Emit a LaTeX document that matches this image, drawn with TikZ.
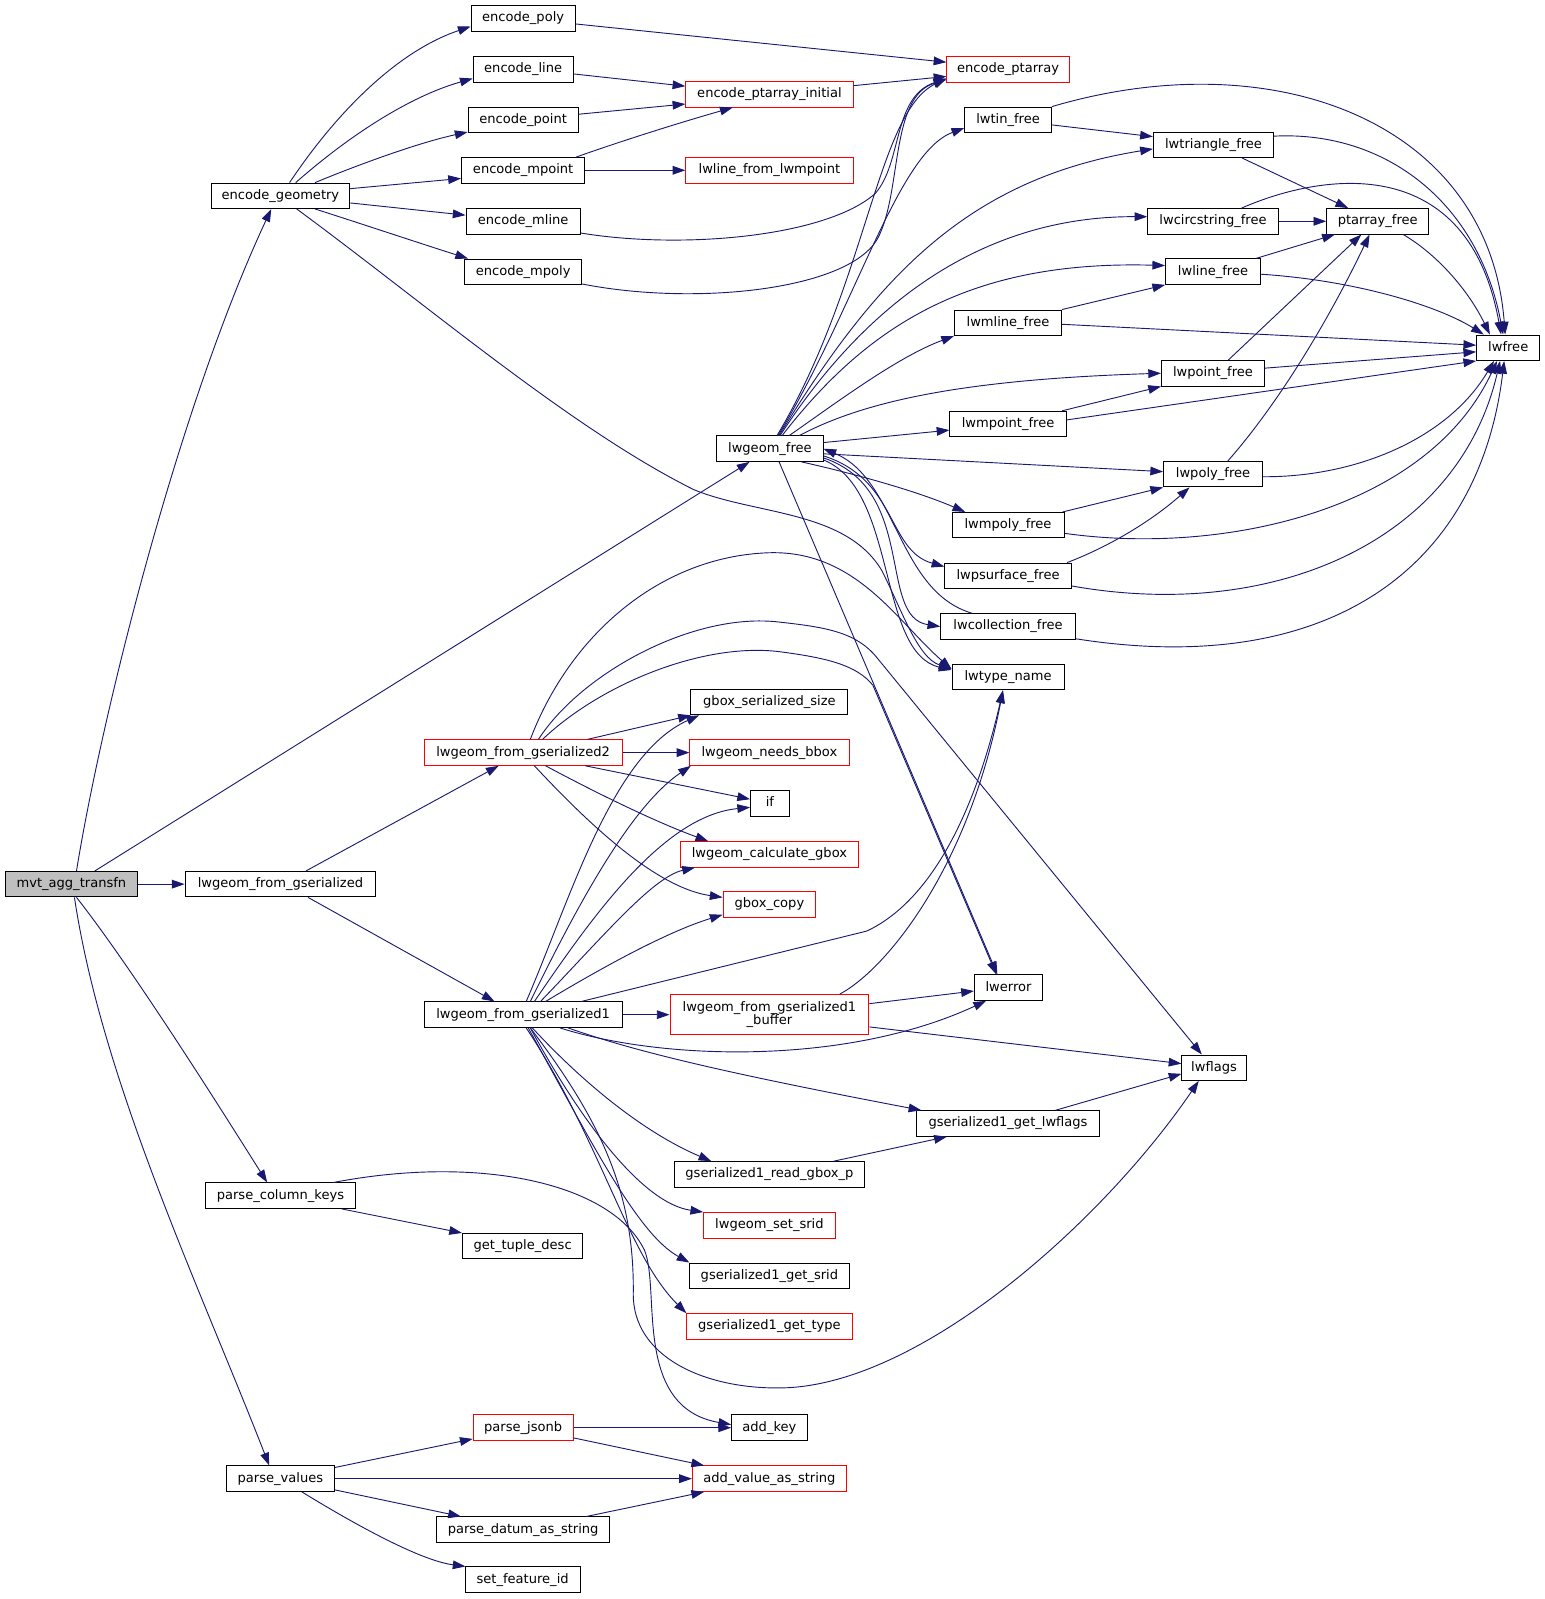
\documentclass[tikz,border=0pt]{standalone}
\usepackage{fontspec}
\setmainfont{DejaVu Sans}
\usetikzlibrary{arrows.meta}
\definecolor{edgeblue}{RGB}{25,25,112}
\definecolor{rootgray}{RGB}{191,191,191}
\begin{document}
\begin{tikzpicture}[x=1pt,y=-1pt,
  base/.style={draw=black, line width=0.9pt, fill=white, inner sep=0pt, font=\fontsize{12.8}{13}\selectfont},
  fn/.style={base, minimum height=25pt, text height=9.5pt, text depth=2.8pt},
  rfn/.style={fn, draw=red},
  call/.style={draw=edgeblue, line width=0.9pt, -{Triangle[length=12.5pt,width=8.5pt]}}]
\useasboundingbox (0,0) rectangle (1515,1568);
% nodes
\node[fn, fill=rootgray, minimum width=130pt] (mvt) at (70,867) {mvt\_agg\_transfn};
\node[fn, minimum width=136pt] (eg) at (275,192) {encode\_geometry};
\node[fn, minimum width=187pt] (lgfg) at (275,867) {lwgeom\_from\_gserialized};
\node[fn, minimum width=148pt] (pck) at (275,1172.5) {parse\_column\_keys};
\node[fn, minimum width=106pt] (pv) at (275,1450) {parse\_values};
\node[fn, minimum width=102pt] (epoly) at (513,18) {encode\_poly};
\node[fn, minimum width=98pt] (eline) at (513,68) {encode\_line};
\node[fn, minimum width=108pt] (epoint) at (513,117.5) {encode\_point};
\node[fn, minimum width=121pt] (empoint) at (513,167) {encode\_mpoint};
\node[fn, minimum width=112pt] (emline) at (513,217) {encode\_mline};
\node[fn, minimum width=115pt] (empoly) at (513,266.5) {encode\_mpoly};
\node[fn, minimum width=104pt] (lwgf) at (755,440) {lwgeom\_free};
\node[rfn, minimum width=194pt] (lgfg2) at (513,738) {lwgeom\_from\_gserialized2};
\node[fn, minimum width=194pt] (lgfg1) at (513,995) {lwgeom\_from\_gserialized1};
\node[fn, minimum width=118pt] (gtd) at (512.5,1222) {get\_tuple\_desc};
\node[rfn, minimum width=98pt] (pj) at (513,1400) {parse\_jsonb};
\node[fn, minimum width=170pt] (pdas) at (513,1500) {parse\_datum\_as\_string};
\node[fn, minimum width=113pt] (sfi) at (512.5,1549) {set\_feature\_id};
\node[rfn, minimum width=164pt] (epai) at (754.5,92.5) {encode\_ptarray\_initial};
\node[rfn, minimum width=164pt] (lflm) at (754.5,167) {lwline\_from\_lwmpoint};
\node[fn, minimum width=154pt] (gss) at (754.5,688.5) {gbox\_serialized\_size};
\node[rfn, minimum width=156pt] (lnb) at (754.5,738) {lwgeom\_needs\_bbox};
\node[fn, minimum width=38pt] (if) at (755,787.7) {if};
\node[rfn, minimum width=175pt] (lcg) at (754.5,837.8) {lwgeom\_calculate\_gbox};
\node[rfn, minimum width=91pt] (gcopy) at (754.5,887) {gbox\_copy};
\node[base, draw=red, align=center, minimum width=195pt, minimum height=39.5pt] (lgfg1b) at (754.5,995) {lwgeom\_from\_gserialized1\\\_buffer};
\node[fn, minimum width=187pt] (grgp) at (754.5,1151.6) {gserialized1\_read\_gbox\_p};
\node[rfn, minimum width=129pt] (lss) at (754.5,1201.5) {lwgeom\_set\_srid};
\node[fn, minimum width=156pt] (ggs) at (754.5,1251) {gserialized1\_get\_srid};
\node[rfn, minimum width=162pt] (ggt) at (754.5,1300.7) {gserialized1\_get\_type};
\node[fn, minimum width=74pt] (akey) at (754.5,1400) {add\_key};
\node[rfn, minimum width=151pt] (avas) at (754.5,1450) {add\_value\_as\_string};
\node[rfn, minimum width=120pt] (ept) at (988.5,68) {encode\_ptarray};
\node[fn, minimum width=85pt] (ltin) at (988.5,117.5) {lwtin\_free};
\node[fn, minimum width=105pt] (lmline) at (988.5,316.5) {lwmline\_free};
\node[fn, minimum width=114pt] (lmpoint) at (988.5,415.8) {lwmpoint\_free};
\node[fn, minimum width=110pt] (lmpoly) at (988.5,515) {lwmpoly\_free};
\node[fn, minimum width=124pt] (lpsurf) at (988.5,564.6) {lwpsurface\_free};
\node[fn, minimum width=132pt] (lcoll) at (988.5,614.4) {lwcollection\_free};
\node[fn, minimum width=110pt] (ltn) at (988.5,664) {lwtype\_name};
\node[fn, minimum width=67pt] (lerr) at (989,968.5) {lwerror};
\node[fn, minimum width=179pt] (gglf) at (988.5,1101.7) {gserialized1\_get\_lwflags};
\node[fn, minimum width=118pt] (ltri) at (1190,142) {lwtriangle\_free};
\node[fn, minimum width=128pt] (lcirc) at (1189.5,217) {lwcircstring\_free};
\node[fn, minimum width=93pt] (lline) at (1189.5,266.4) {lwline\_free};
\node[fn, minimum width=101pt] (lpoint) at (1189.5,366) {lwpoint\_free};
\node[fn, minimum width=97pt] (lpoly) at (1189.5,465) {lwpoly\_free};
\node[fn, minimum width=63pt] (lflags) at (1190.5,1047) {lwflags};
\node[fn, minimum width=100pt] (pfree) at (1351,217) {ptarray\_free};
\node[fn, minimum width=62pt] (lwfree) at (1479,341) {lwfree};
% edges from mvt_agg_transfn
\draw[call] ([xshift=5pt]mvt.north) .. controls (100,700) and (175,400) .. ([xshift=-9pt]eg.south);
\draw[call] ([xshift=23pt]mvt.north) -- ([xshift=-20pt]lwgf.south);
\draw[call] (mvt) -- (lgfg);
\draw[call] ([xshift=5pt]mvt.south) .. controls (130,950) and (215,1085) .. ([xshift=-13pt]pck.north);
\draw[call] ([xshift=3pt]mvt.south) .. controls (100,1060) and (195,1260) .. ([xshift=-11pt]pv.north);
% encode_geometry
\draw[call] ([xshift=9pt]eg.north) .. controls (330,110) and (390,50) .. ([yshift=-8pt]epoly.west);
\draw[call] ([xshift=15pt]eg.north) .. controls (340,135) and (400,95) .. ([yshift=-9pt]eline.west);
\draw[call] ([xshift=34pt]eg.north) .. controls (350,162) and (410,140) .. ([yshift=-12pt]epoint.west);
\draw[call] ([yshift=7pt]eg.east) -- ([yshift=-8pt]empoint.west);
\draw[call] ([yshift=-7pt]eg.east) -- ([yshift=6pt]emline.west);
\draw[call] ([xshift=34pt]eg.south) .. controls (350,218) and (410,238) .. ([xshift=-54pt]empoly.north);
\draw[call] ([xshift=16pt]eg.south) .. controls (420,300) and (560,420) .. (680,480) .. controls (740,505) and (830,500) .. (865,560) .. controls (885,600) and (900,645) .. ([yshift=8pt]ltn.west);
% lwgeom_from_gserialized
\draw[call] ([xshift=25pt]lgfg.north) -- ([xshift=-24pt]lgfg2.south);
\draw[call] ([xshift=27pt]lgfg.south) -- ([xshift=-28pt]lgfg1.north);
% parse_column_keys / parse_values
\draw[call] ([xshift=60pt]pck.south) -- (gtd.north west);
\draw[call] ([xshift=52pt]pck.north) .. controls (470,1132) and (600,1160) .. (632,1226) .. controls (648,1265) and (620,1380) .. ([yshift=3pt]akey.west);
\draw[call] ([yshift=11pt]pv.east) -- ([yshift=-11pt]pj.west);
\draw[call] (pv) -- (avas);
\draw[call] ([yshift=-11pt]pv.east) -- ([xshift=-61pt]pdas.north);
\draw[call] ([xshift=21pt]pv.south) .. controls (340,1490) and (410,1530) .. ([xshift=-56pt]sfi.north);
\draw[call] (pj) -- (akey);
\draw[call] ([yshift=-10pt]pj.east) -- ([xshift=-64pt]avas.north);
\draw[call] ([xshift=62pt]pdas.north) -- ([xshift=-64pt]avas.south);
% encode_* 
\draw[call] ([yshift=-5.5pt]epoly.east) -- ([yshift=7pt]ept.west);
\draw[call] ([yshift=-4.5pt]eline.east) -- ([yshift=8pt]epai.west);
\draw[call] ([yshift=5.5pt]epoint.east) -- ([yshift=-9.5pt]epai.west);
\draw[call] ([xshift=52pt]empoint.north) .. controls (590,145) and (650,125) .. ([xshift=-36pt]epai.south);
\draw[call] (empoint) -- (lflm);
\draw[call] ([yshift=8.5pt]epai.east) -- ([yshift=-7pt]ept.west);
\draw[call] ([yshift=-11.5pt]emline.east) .. controls (670,245) and (810,232) .. (858,190) .. controls (885,160) and (875,95) .. ([yshift=-9pt]ept.west);
\draw[call] ([yshift=-12pt]empoly.east) .. controls (680,300) and (830,285) .. (860,235) .. controls (885,190) and (872,95) .. ([yshift=-10pt]ept.west);
% lwgeom_free
\draw[call] ([xshift=7pt]lwgf.north) .. controls (850,280) and (860,110) .. ([yshift=-9pt]ept.west);
\draw[call] ([xshift=8pt]lwgf.north) .. controls (840,300) and (880,150) .. ([yshift=-8pt]ltin.west);
\draw[call] ([xshift=9pt]lwgf.north) .. controls (860,270) and (950,175) .. ([yshift=-4pt]ltri.west);
\draw[call] ([xshift=10pt]lwgf.north) .. controls (860,280) and (980,212) .. ([yshift=4.5pt]lcirc.west);
\draw[call] ([xshift=12pt]lwgf.north) .. controls (850,320) and (950,255) .. ([yshift=6pt]lline.west);
\draw[call] ([xshift=19pt]lwgf.north) .. controls (820,395) and (880,350) .. (lmline.south west);
\draw[call] ([xshift=29pt]lwgf.north) .. controls (850,392) and (950,372) .. (lpoint.west);
\draw[call] ([yshift=6pt]lwgf.east) -- ([yshift=-6pt]lmpoint.west);
\draw[call] ([yshift=-5pt]lwgf.east) -- ([yshift=2.5pt]lpoly.west);
\draw[call] ([xshift=31pt]lwgf.south) .. controls (840,465) and (900,482) .. ([xshift=-42pt]lmpoly.north);
\draw[call] ([yshift=-7pt]lwgf.east) .. controls (880,470) and (870,540) .. ([yshift=9pt]lpsurf.west);
\draw[call] ([yshift=-9pt]lwgf.east) .. controls (900,480) and (860,605) .. (lcoll.west);
\draw[call] ([yshift=-11pt]lwgf.east) .. controls (880,480) and (860,640) .. ([yshift=7pt]ltn.west);
\draw[call] ([xshift=-35pt]lcoll.north) .. controls (880,580) and (880,470) .. (lwgf.east);
\draw[call] ([xshift=9pt]lwgf.south) -- ([xshift=-11pt]lerr.north);
% free functions
\draw[call] ([yshift=-5pt]ltin.east) -- ([yshift=8pt]ltri.west);
\draw[call] (ltin.north east) .. controls (1250,40) and (1460,120) .. ([xshift=-3pt]lwfree.north);
\draw[call] ([yshift=8.5pt]ltri.east) .. controls (1360,128) and (1450,200) .. ([xshift=-5pt]lwfree.north);
\draw[call] ([xshift=28pt]ltri.south) -- ([xshift=-29pt]pfree.north);
\draw[call] (lcirc) -- (pfree);
\draw[call] ([xshift=28pt]lcirc.north) .. controls (1300,168) and (1440,150) .. ([xshift=-7pt]lwfree.north);
\draw[call] ([xshift=25pt]pfree.south) .. controls (1410,250) and (1440,285) .. ([xshift=-18pt]lwfree.north);
\draw[call] ([xshift=42pt]lline.north) -- ([xshift=-42pt]pfree.south);
\draw[call] ([yshift=-2.5pt]lline.east) .. controls (1330,275) and (1410,300) .. ([xshift=-24pt]lwfree.north);
\draw[call] (lmline.north east) -- (lline.south west);
\draw[call] ([yshift=-1.5pt]lmline.east) -- ([yshift=2.5pt]lwfree.west);
\draw[call] ([xshift=15pt]lpoint.north) -- ([xshift=-16pt]pfree.south);
\draw[call] ([yshift=5pt]lpoint.east) -- ([yshift=-4pt]lwfree.west);
\draw[call] ([xshift=53pt]lmpoint.north) -- (lpoint.south west);
\draw[call] ([yshift=4pt]lmpoint.east) -- (lwfree.south west);
\draw[call] ([xshift=14.5pt]lpoly.north) .. controls (1250,400) and (1300,320) .. ([xshift=-8pt]pfree.south);
\draw[call] ([yshift=-2.5pt]lpoly.east) .. controls (1330,468) and (1420,430) .. ([xshift=-14pt]lwfree.south);
\draw[call] ([xshift=-2pt]lmpoly.north east) -- (lpoly.south west);
\draw[call] ([yshift=-8pt]lmpoly.east) .. controls (1200,545) and (1400,500) .. ([xshift=-11pt]lwfree.south);
\draw[call] ([xshift=58pt]lpsurf.north) .. controls (1090,535) and (1130,510) .. ([xshift=-23pt]lpoly.south);
\draw[call] ([yshift=-10pt]lpsurf.east) .. controls (1250,610) and (1430,530) .. ([xshift=-8pt]lwfree.south);
\draw[call] ([yshift=-12pt]lcoll.east) .. controls (1300,665) and (1450,560) .. ([xshift=-4pt]lwfree.south);
% lwgeom_from_gserialized2
\draw[call] ([xshift=63pt]lgfg2.north) -- ([xshift=-77pt]gss.south);
\draw[call] (lgfg2) -- (lnb);
\draw[call] ([xshift=61pt]lgfg2.south) -- ([yshift=4pt]if.west);
\draw[call] ([xshift=22pt]lgfg2.south) .. controls (580,775) and (640,805) .. ([xshift=-60pt]lcg.north);
\draw[call] ([xshift=11pt]lgfg2.south) .. controls (570,800) and (640,870) .. ([yshift=7pt]gcopy.west);
\draw[call] ([xshift=7pt]lgfg2.north) .. controls (560,620) and (650,545) .. (755,542) .. controls (840,540) and (880,610) .. ([yshift=8pt]ltn.west);
\draw[call] ([xshift=15pt]lgfg2.north) .. controls (570,660) and (680,600) .. (764,610) .. controls (810,615) and (840,620) .. (860,645) -- ([xshift=-12pt]lflags.north);
\draw[call] ([xshift=19pt]lgfg2.north) .. controls (590,670) and (690,630) .. (764,639) .. controls (810,645) and (840,652) .. (856,672) -- ([xshift=-12pt]lerr.north);
% lwgeom_from_gserialized1
\draw[call] ([xshift=3pt]lgfg1.north) .. controls (560,880) and (600,740) .. ([xshift=-69pt]gss.south);
\draw[call] ([xshift=7pt]lgfg1.north) .. controls (570,880) and (620,790) .. ([xshift=-77pt]lnb.south);
\draw[call] ([xshift=11pt]lgfg1.north) .. controls (580,900) and (650,800) .. ([yshift=-4pt]if.west);
\draw[call] ([xshift=17pt]lgfg1.north) .. controls (590,920) and (640,860) .. ([xshift=-73pt]lcg.south);
\draw[call] ([xshift=22pt]lgfg1.north) .. controls (580,955) and (650,915) .. ([yshift=-10pt]gcopy.west);
\draw[call] ([xshift=57pt]lgfg1.north) -- (850,913) .. controls (920,880) and (960,780) .. ([xshift=-5pt]ltn.south);
\draw[call] (lgfg1) -- (lgfg1b);
\draw[call] ([xshift=69pt]lgfg1b.north) .. controls (870,950) and (950,850) .. ([xshift=-5pt]ltn.south);
\draw[call] ([yshift=10.8pt]lgfg1b.east) -- ([yshift=-3.3pt]lerr.west);
\draw[call] ([yshift=-12pt]lgfg1b.east) -- ([yshift=4pt]lflags.west);
\draw[call] ([xshift=46.5pt]gglf.north) -- ([yshift=-6pt]lflags.west);
\draw[call] ([xshift=36pt]lgfg1.south) .. controls (650,1040) and (830,1045) .. ([xshift=-22pt]lerr.south);
\draw[call] ([xshift=44pt]lgfg1.south) .. controls (620,1030) and (700,1050) .. ([xshift=-85pt]gglf.north);
\draw[call] ([xshift=9pt]lgfg1.south) .. controls (570,1060) and (630,1110) .. ([xshift=-57pt]grgp.north);
\draw[call] ([xshift=63pt]grgp.north) -- ([xshift=-60pt]gglf.south);
\draw[call] ([xshift=7pt]lgfg1.south) .. controls (570,1100) and (630,1180) .. (lss.north west);
\draw[call] ([xshift=5pt]lgfg1.south) .. controls (580,1120) and (625,1210) .. (ggs.north west);
\draw[call] ([xshift=3pt]lgfg1.south) .. controls (590,1120) and (615,1230) .. (ggt.north west);
\draw[call] ([xshift=7pt]lgfg1.south) .. controls (590,1100) and (622,1170) .. (621,1268) .. controls (620,1330) and (690,1362) .. (765,1361) .. controls (900,1360) and (1080,1200) .. ([xshift=-15pt]lflags.south);
\end{tikzpicture}
\end{document}
